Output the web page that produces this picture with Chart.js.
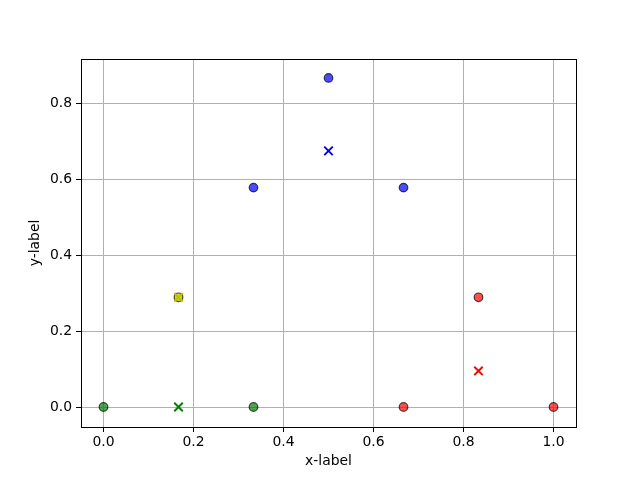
<!DOCTYPE html>
<html>
<head>
<meta charset="utf-8">
<script src="https://cdn.jsdelivr.net/npm/chart.js@4/dist/chart.umd.min.js"></script>
<style>
  html, body { margin: 0; padding: 0; background: #ffffff; }
  #wrap { width: 640px; height: 480px; }
</style>
</head>
<body>
<div id="wrap"><canvas id="chart" width="640" height="480"></canvas></div>
<script>
"use strict";

// values
var greenX = [0.0, 0.3333];
var greenY = [0.0, 0.0];
var yellowX = [0.1667];
var yellowY = [0.2887];
var blueX = [0.3333, 0.5, 0.6667];
var blueY = [0.5774, 0.8660, 0.5774];
var redX = [0.6667, 0.8333, 1.0];
var redY = [0.0, 0.2887, 0.0];

var crossGreen = [[0.1667, 0.0]];
var crossYellow = [[0.1667, 0.2887]];
var crossBlue = [[0.5, 0.674]];
var crossRed = [[0.8333, 0.095]];

var xTicks = [0.0, 0.2, 0.4, 0.6, 0.8, 1.0];
var yTicks = [0.0, 0.2, 0.4, 0.6, 0.8];

function points(xs, ys)
{
    return xs.map(function(x, i) { return { x: x, y: ys[i] }; });
}

function pairs(list)
{
    return list.map(function(p) { return { x: p[0], y: p[1] }; });
}

function circles(label, xs, ys, fill)
{
    return {
        label: label,
        data: points(xs, ys),
        pointStyle: "circle",
        pointRadius: 4.3,
        pointHoverRadius: 4.3,
        pointBackgroundColor: fill,
        pointBorderColor: "rgba(0,0,0,0.7)",
        pointBorderWidth: 1.2,
    };
}

function crosses(label, list, color)
{
    return {
        label: label,
        data: pairs(list),
        pointStyle: "crossRot",
        pointRadius: 6,
        pointHoverRadius: 6,
        pointBorderColor: color,
        pointBackgroundColor: color,
        pointBorderWidth: 2,
    };
}

var frame = {
    id: "frame",
    afterDraw: function(chart)
    {
        var a = chart.chartArea;
        var ctx = chart.ctx;
        ctx.save();
        ctx.strokeStyle = "#000000";
        ctx.lineWidth = 1;
        ctx.strokeRect(Math.round(a.left) + 0.5, Math.round(a.top) + 0.5,
            Math.round(a.right - a.left), Math.round(a.bottom - a.top));
        ctx.restore();
    },
};

var tickFont = { family: "DejaVu Sans", size: 13.9 };

new Chart(document.getElementById("chart").getContext("2d"),
{
    type: "scatter",
    data: {
        datasets: [
            crosses("cross green", crossGreen, "#008000"),
            crosses("cross yellow", crossYellow, "#bfbf00"),
            crosses("cross blue", crossBlue, "#0000ff"),
            crosses("cross red", crossRed, "#ff0000"),
            circles("green", greenX, greenY, "rgba(0,128,0,0.7)"),
            circles("yellow", yellowX, yellowY, "rgba(191,191,0,0.7)"),
            circles("blue", blueX, blueY, "rgba(0,0,255,0.7)"),
            circles("red", redX, redY, "rgba(255,0,0,0.7)"),
        ],
    },
    options: {
        responsive: false,
        animation: false,
        events: [],
        layout: { padding: { left: 0, right: 64, top: 59, bottom: 0 } },
        plugins: {
            legend: { display: false },
            tooltip: { enabled: false },
        },
        scales: {
            x: {
                type: "linear",
                min: -0.05,
                max: 1.05,
                afterBuildTicks: function(scale)
                {
                    scale.ticks = xTicks.map(function(v) { return { value: v }; });
                },
                afterFit: function(scale) { scale.height = 53; },
                grid: {
                    color: "#b0b0b0",
                    lineWidth: 1,
                    tickColor: "#000000",
                    tickLength: 5,
                    drawTicks: true,
                },
                border: { display: false },
                ticks: {
                    color: "#000000",
                    font: tickFont,
                    padding: 2,
                    maxRotation: 0,
                    callback: function(v) { return v.toFixed(1); },
                },
                title: {
                    display: true,
                    text: "x-label",
                    color: "#000000",
                    font: tickFont,
                    padding: { top: 0, bottom: 10 },
                },
            },
            y: {
                type: "linear",
                min: -0.0526,
                max: 0.9158,
                afterBuildTicks: function(scale)
                {
                    scale.ticks = yTicks.map(function(v) { return { value: v }; });
                },
                afterFit: function(scale) { scale.width = 81; },
                grid: {
                    color: "#b0b0b0",
                    lineWidth: 1,
                    tickColor: "#000000",
                    tickLength: 5,
                    drawTicks: true,
                },
                border: { display: false },
                ticks: {
                    color: "#000000",
                    font: tickFont,
                    padding: 4,
                    callback: function(v) { return v.toFixed(1); },
                },
                title: {
                    display: true,
                    text: "y-label",
                    color: "#000000",
                    font: tickFont,
                    padding: { top: 27, bottom: 0 },
                },
            },
        },
    },
    plugins: [frame],
});
</script>
</body>
</html>
